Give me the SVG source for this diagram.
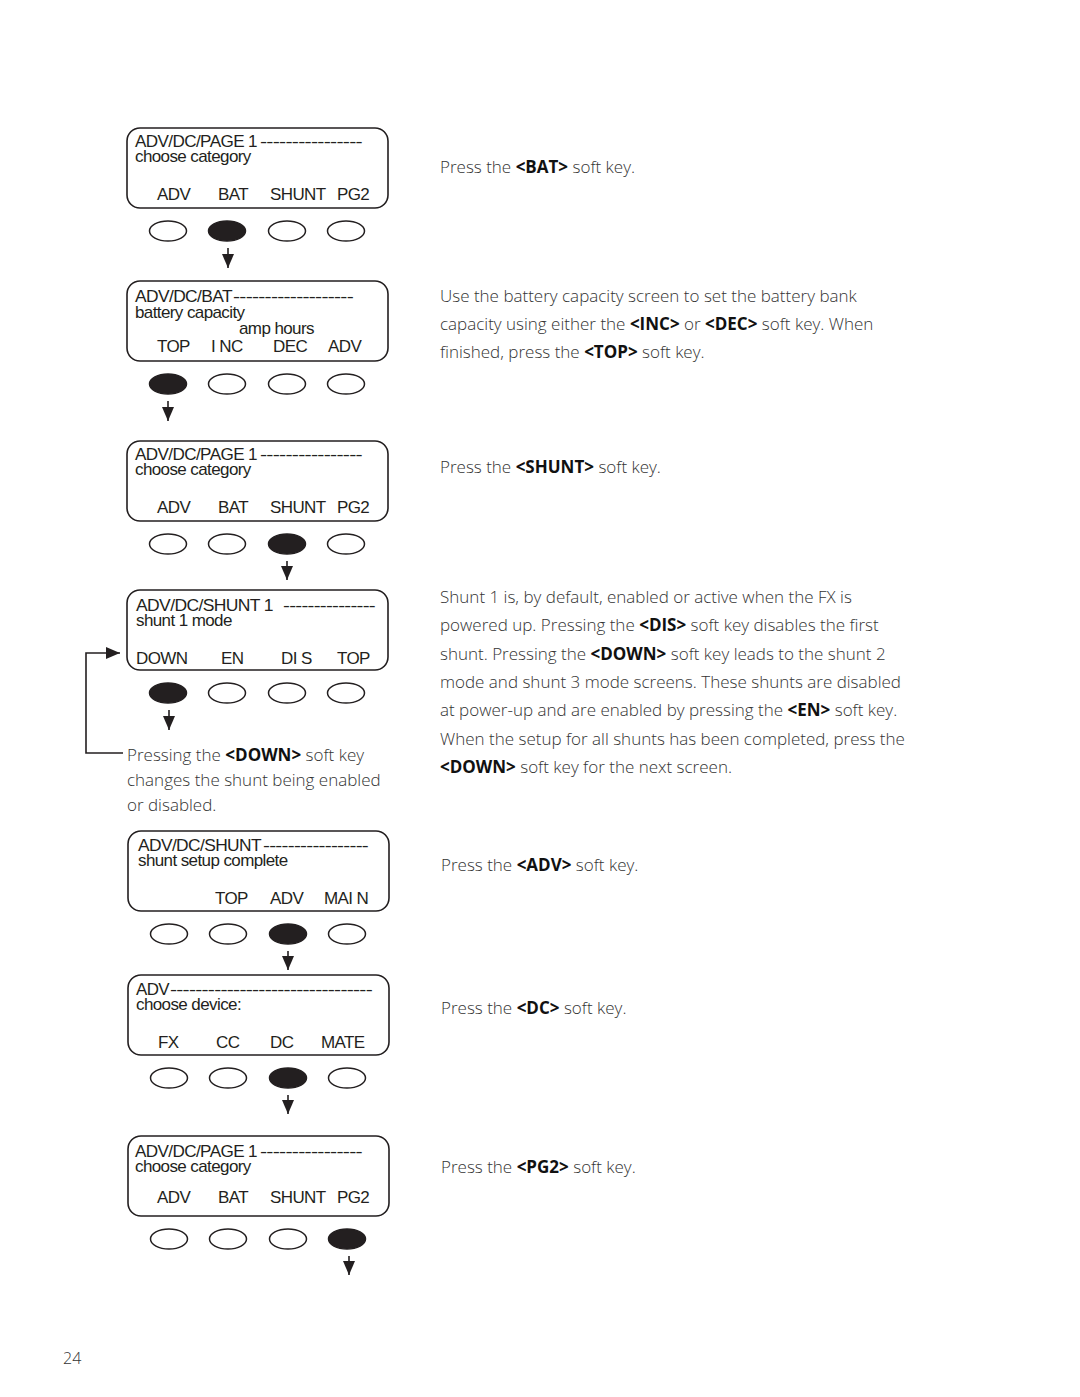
<svg xmlns="http://www.w3.org/2000/svg" width="1080" height="1397" viewBox="0 0 1080 1397">
<defs>
<style>
.scr{fill:#fff;stroke:#231f20;stroke-width:1.6}
.btn{fill:#fff;stroke:#231f20;stroke-width:1.5}
.on{fill:#231f20;stroke:#231f20;stroke-width:1.5}
.lcd{font-family:"Liberation Sans",Arial,sans-serif;font-size:17px;fill:#231f20;letter-spacing:-0.6px}
.body{font-family:"Open Sans","Noto Sans",sans-serif;font-weight:300;font-size:17px;fill:#333}
.b{font-weight:700;fill:#111}
.conn{fill:none;stroke:#231f20;stroke-width:1.6}
</style>
<marker id="ah" markerUnits="userSpaceOnUse" markerWidth="14" markerHeight="12" viewBox="0 0 14 12" refX="14" refY="6" orient="auto">
<path d="M0,0 L14,6 L0,12 Z" fill="#231f20"/>
</marker>
</defs>
<rect width="1080" height="1397" fill="#fff"/>

<g id="screen1">
<rect class="scr" x="127" y="128" width="261" height="80" rx="13"/>
<text class="lcd" x="135" y="147" textLength="122" lengthAdjust="spacingAndGlyphs">ADV/DC/PAGE 1</text>
<text class="lcd" x="260" y="147" textLength="102" lengthAdjust="spacingAndGlyphs">----------------</text>
<text class="lcd" x="135" y="162">choose category</text>
<text class="lcd" x="157" y="200">ADV</text>
<text class="lcd" x="218" y="200">BAT</text>
<text class="lcd" x="270" y="200">SHUNT</text>
<text class="lcd" x="337" y="200">PG2</text>
<ellipse class="btn" cx="168" cy="231" rx="18.5" ry="10"/>
<ellipse class="on" cx="227" cy="231" rx="18.5" ry="10"/>
<ellipse class="btn" cx="287" cy="231" rx="18.5" ry="10"/>
<ellipse class="btn" cx="346" cy="231" rx="18.5" ry="10"/>
</g>

<g id="screen2">
<rect class="scr" x="127" y="281" width="261" height="80" rx="13"/>
<text class="lcd" x="135" y="302" textLength="97" lengthAdjust="spacingAndGlyphs">ADV/DC/BAT</text>
<text class="lcd" x="233" y="302" textLength="120" lengthAdjust="spacingAndGlyphs">-------------------</text>
<text class="lcd" x="135" y="318">battery capacity</text>
<text class="lcd" x="239" y="334">amp hours</text>
<text class="lcd" x="157" y="352">TOP</text>
<text class="lcd" x="211" y="352">I NC</text>
<text class="lcd" x="273" y="352">DEC</text>
<text class="lcd" x="328" y="352">ADV</text>
<ellipse class="on" cx="168" cy="384" rx="18.5" ry="10"/>
<ellipse class="btn" cx="227" cy="384" rx="18.5" ry="10"/>
<ellipse class="btn" cx="287" cy="384" rx="18.5" ry="10"/>
<ellipse class="btn" cx="346" cy="384" rx="18.5" ry="10"/>
</g>

<g id="screen3">
<rect class="scr" x="127" y="441" width="261" height="80" rx="13"/>
<text class="lcd" x="135" y="460" textLength="122" lengthAdjust="spacingAndGlyphs">ADV/DC/PAGE 1</text>
<text class="lcd" x="260" y="460" textLength="102" lengthAdjust="spacingAndGlyphs">----------------</text>
<text class="lcd" x="135" y="475">choose category</text>
<text class="lcd" x="157" y="513">ADV</text>
<text class="lcd" x="218" y="513">BAT</text>
<text class="lcd" x="270" y="513">SHUNT</text>
<text class="lcd" x="337" y="513">PG2</text>
<ellipse class="btn" cx="168" cy="544" rx="18.5" ry="10"/>
<ellipse class="btn" cx="227" cy="544" rx="18.5" ry="10"/>
<ellipse class="on" cx="287" cy="544" rx="18.5" ry="10"/>
<ellipse class="btn" cx="346" cy="544" rx="18.5" ry="10"/>
</g>

<g id="screen4">
<rect class="scr" x="127" y="590" width="261" height="80" rx="13"/>
<text class="lcd" x="136" y="611" textLength="137" lengthAdjust="spacingAndGlyphs">ADV/DC/SHUNT 1</text>
<text class="lcd" x="283" y="611" textLength="92" lengthAdjust="spacingAndGlyphs">---------------</text>
<text class="lcd" x="136" y="626">shunt 1 mode</text>
<text class="lcd" x="136" y="664">DOWN</text>
<text class="lcd" x="221" y="664">EN</text>
<text class="lcd" x="281" y="664">DI S</text>
<text class="lcd" x="337" y="664">TOP</text>
<ellipse class="on" cx="168" cy="693" rx="18.5" ry="10"/>
<ellipse class="btn" cx="227" cy="693" rx="18.5" ry="10"/>
<ellipse class="btn" cx="287" cy="693" rx="18.5" ry="10"/>
<ellipse class="btn" cx="346" cy="693" rx="18.5" ry="10"/>
</g>

<g id="screen5">
<rect class="scr" x="128" y="831" width="261" height="80" rx="13"/>
<text class="lcd" x="138" y="851" textLength="123" lengthAdjust="spacingAndGlyphs">ADV/DC/SHUNT</text>
<text class="lcd" x="263" y="851" textLength="105" lengthAdjust="spacingAndGlyphs">-----------------</text>
<text class="lcd" x="138" y="866">shunt setup complete</text>
<text class="lcd" x="215" y="904">TOP</text>
<text class="lcd" x="270" y="904">ADV</text>
<text class="lcd" x="324" y="904">MAI N</text>
<ellipse class="btn" cx="169" cy="934" rx="18.5" ry="10"/>
<ellipse class="btn" cx="228" cy="934" rx="18.5" ry="10"/>
<ellipse class="on" cx="288" cy="934" rx="18.5" ry="10"/>
<ellipse class="btn" cx="347" cy="934" rx="18.5" ry="10"/>
</g>

<g id="screen6">
<rect class="scr" x="128" y="975" width="261" height="80" rx="13"/>
<text class="lcd" x="136" y="995" textLength="33" lengthAdjust="spacingAndGlyphs">ADV</text>
<text class="lcd" x="170" y="995" textLength="202" lengthAdjust="spacingAndGlyphs">--------------------------------</text>
<text class="lcd" x="136" y="1010">choose device:</text>
<text class="lcd" x="158" y="1048">FX</text>
<text class="lcd" x="216" y="1048">CC</text>
<text class="lcd" x="270" y="1048">DC</text>
<text class="lcd" x="321" y="1048">MATE</text>
<ellipse class="btn" cx="169" cy="1078" rx="18.5" ry="10"/>
<ellipse class="btn" cx="228" cy="1078" rx="18.5" ry="10"/>
<ellipse class="on" cx="288" cy="1078" rx="18.5" ry="10"/>
<ellipse class="btn" cx="347" cy="1078" rx="18.5" ry="10"/>
</g>

<g id="screen7">
<rect class="scr" x="128" y="1136" width="261" height="80" rx="13"/>
<text class="lcd" x="135" y="1157" textLength="122" lengthAdjust="spacingAndGlyphs">ADV/DC/PAGE 1</text>
<text class="lcd" x="260" y="1157" textLength="102" lengthAdjust="spacingAndGlyphs">----------------</text>
<text class="lcd" x="135" y="1172">choose category</text>
<text class="lcd" x="157" y="1203">ADV</text>
<text class="lcd" x="218" y="1203">BAT</text>
<text class="lcd" x="270" y="1203">SHUNT</text>
<text class="lcd" x="337" y="1203">PG2</text>
<ellipse class="btn" cx="169" cy="1239" rx="18.5" ry="10"/>
<ellipse class="btn" cx="228" cy="1239" rx="18.5" ry="10"/>
<ellipse class="btn" cx="288" cy="1239" rx="18.5" ry="10"/>
<ellipse class="on" cx="347" cy="1239" rx="18.5" ry="10"/>
</g>

<g id="connectors">
<line class="conn" x1="228" y1="248" x2="228" y2="268" marker-end="url(#ah)"/>
<line class="conn" x1="168" y1="401" x2="168" y2="421" marker-end="url(#ah)"/>
<line class="conn" x1="287" y1="561" x2="287" y2="580" marker-end="url(#ah)"/>
<line class="conn" x1="169" y1="710" x2="169" y2="730" marker-end="url(#ah)"/>
<line class="conn" x1="288" y1="951" x2="288" y2="970" marker-end="url(#ah)"/>
<line class="conn" x1="288" y1="1095" x2="288" y2="1114" marker-end="url(#ah)"/>
<line class="conn" x1="349" y1="1256" x2="349" y2="1275" marker-end="url(#ah)"/>
<polyline class="conn" points="123,753 86,753 86,653 120,653" marker-end="url(#ah)"/>
</g>

<g id="notes">
<text class="body" x="440" y="173">Press the <tspan class="b">&lt;BAT&gt;</tspan> soft key.</text>
<text class="body" x="440" y="302">Use the battery capacity screen to set the battery bank</text>
<text class="body" x="440" y="330">capacity using either the <tspan class="b">&lt;INC&gt;</tspan> or <tspan class="b">&lt;DEC&gt;</tspan> soft key. When</text>
<text class="body" x="440" y="358">finished, press the <tspan class="b">&lt;TOP&gt;</tspan> soft key.</text>
<text class="body" x="440" y="473">Press the <tspan class="b">&lt;SHUNT&gt;</tspan> soft key.</text>
<text class="body" x="440" y="603">Shunt 1 is, by default, enabled or active when the FX is</text>
<text class="body" x="440" y="631">powered up. Pressing the <tspan class="b">&lt;DIS&gt;</tspan> soft key disables the first</text>
<text class="body" x="440" y="660">shunt. Pressing the <tspan class="b">&lt;DOWN&gt;</tspan> soft key leads to the shunt 2</text>
<text class="body" x="440" y="688">mode and shunt 3 mode screens. These shunts are disabled</text>
<text class="body" x="440" y="716">at power-up and are enabled by pressing the <tspan class="b">&lt;EN&gt;</tspan> soft key.</text>
<text class="body" x="440" y="745">When the setup for all shunts has been completed, press the</text>
<text class="body" x="440" y="773"><tspan class="b">&lt;DOWN&gt;</tspan> soft key for the next screen.</text>
<text class="body" x="127" y="761">Pressing the <tspan class="b">&lt;DOWN&gt;</tspan> soft key</text>
<text class="body" x="127" y="786">changes the shunt being enabled</text>
<text class="body" x="127" y="811">or disabled.</text>
<text class="body" x="441" y="871">Press the <tspan class="b">&lt;ADV&gt;</tspan> soft key.</text>
<text class="body" x="441" y="1014">Press the <tspan class="b">&lt;DC&gt;</tspan> soft key.</text>
<text class="body" x="441" y="1173">Press the <tspan class="b">&lt;PG2&gt;</tspan> soft key.</text>
<text class="body" x="63" y="1364" style="font-size:16px">24</text>
</g>
</svg>
